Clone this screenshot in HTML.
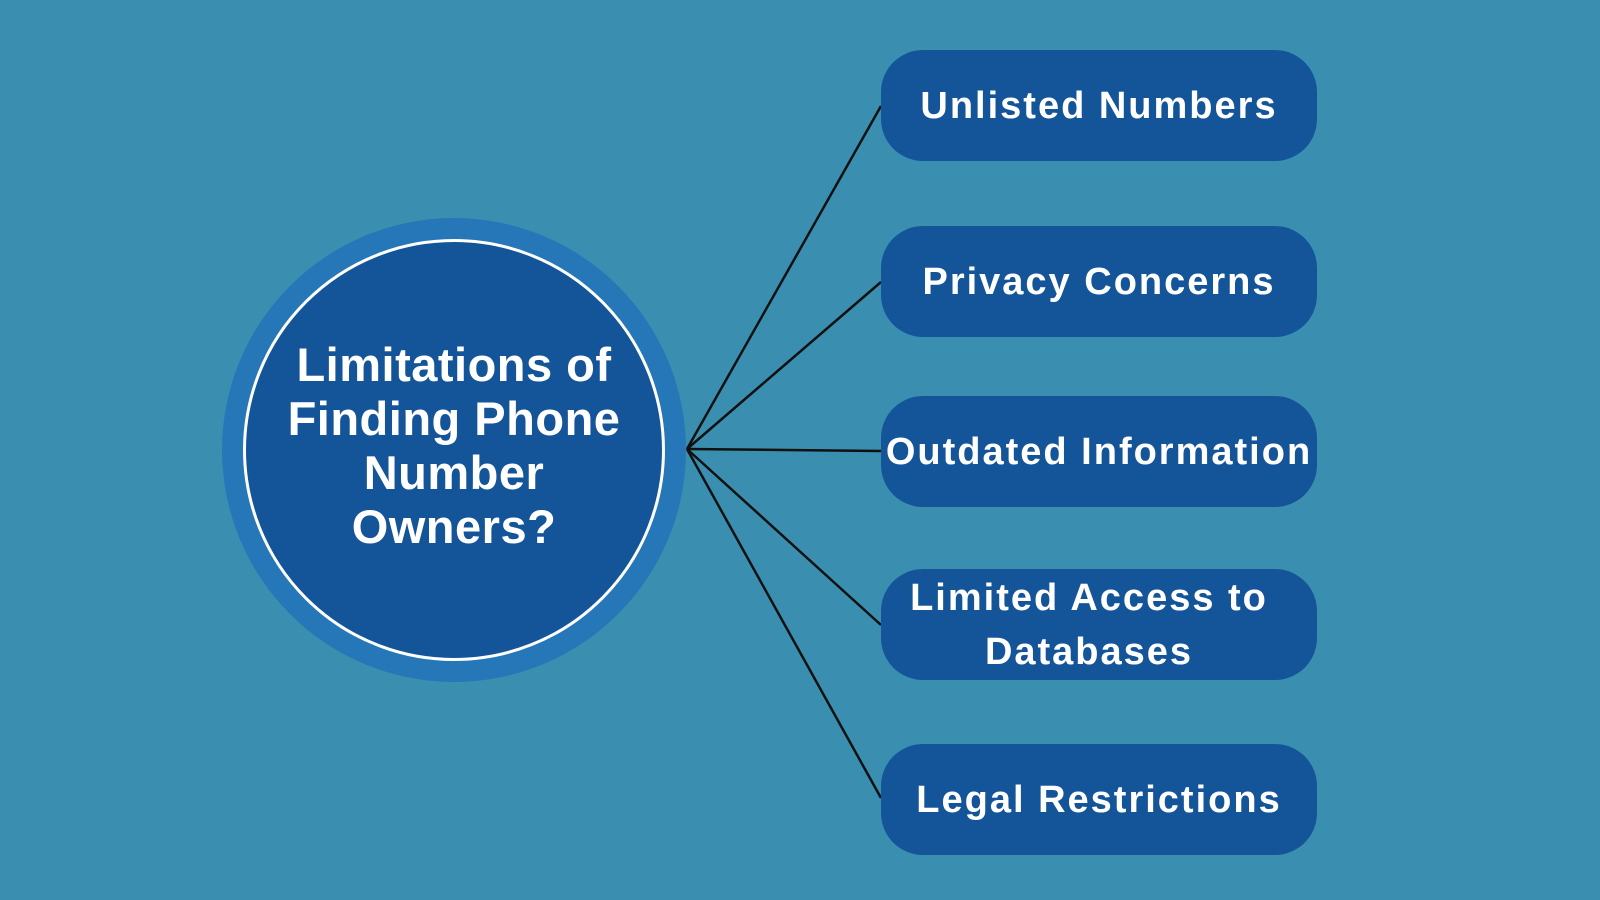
<!DOCTYPE html>
<html><head><meta charset="utf-8"><style>
html,body{margin:0;padding:0}
body{width:1600px;height:900px;background:#3a8fb0;position:relative;overflow:hidden;font-family:"Liberation Sans",sans-serif;font-weight:bold;color:#fff}
.box{position:absolute;left:881px;width:436px;height:111px;background:#14559a;border-radius:42px;display:flex;align-items:center;justify-content:center;text-align:center;font-size:38px;letter-spacing:2px;line-height:54px}
.c1{position:absolute;left:222px;top:218px;width:464px;height:464px;border-radius:50%;background:#2677b8}
.c2{position:absolute;left:243px;top:239px;width:422px;height:422px;border-radius:50%;background:#14559a;border:3px solid #fff;box-sizing:border-box;display:flex;align-items:center;justify-content:center;text-align:center;font-size:47px;letter-spacing:0.5px;line-height:54px}
svg{position:absolute;left:0;top:0}
</style></head><body>
<div class="c1"></div>
<div class="c2"><div style="margin-top:-8px">Limitations of<br>Finding Phone<br>Number<br>Owners?</div></div>
<svg width="1600" height="900"><g stroke="#111" stroke-width="2.5">
<line x1="687" y1="449" x2="881" y2="106"/>
<line x1="687" y1="449" x2="881" y2="282"/>
<line x1="687" y1="449" x2="881" y2="451"/>
<line x1="687" y1="449" x2="881" y2="625"/>
<line x1="687" y1="449" x2="881" y2="798"/>
</g></svg>
<div class="box" style="top:50px">Unlisted Numbers</div>
<div class="box" style="top:226px">Privacy Concerns</div>
<div class="box" style="top:396px">Outdated Information</div>
<div class="box" style="top:569px"><div style="margin-left:-20px">Limited Access to<br>Databases</div></div>
<div class="box" style="top:744px">Legal Restrictions</div>
</body></html>
